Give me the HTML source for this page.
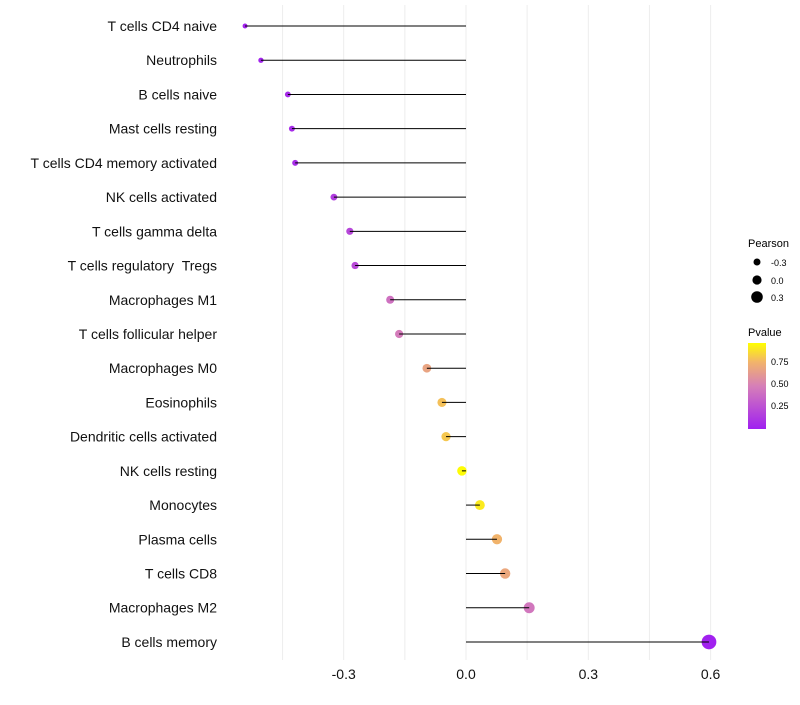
<!DOCTYPE html>
<html><head><meta charset="utf-8"><style>
body{margin:0;background:#fff;font-family:"Liberation Sans",sans-serif}
</style></head><body>
<svg id="chart" width="800" height="700" xmlns="http://www.w3.org/2000/svg" font-family="Liberation Sans, sans-serif">
<defs><linearGradient id="pg" x1="0" y1="1" x2="0" y2="0">
<stop offset="0" stop-color="#A020F0"/><stop offset="0.5" stop-color="#D67FB8"/><stop offset="0.78" stop-color="#F2B46A"/><stop offset="1" stop-color="#FFFF00"/></linearGradient></defs>
<g id="grid"></g>
<g id="marks"></g>
<g id="legend">
<text x="748" y="247" font-size="11">Pearson</text>
<circle cx="757" cy="262" r="3.5" fill="#000"/>
<text x="771" y="266" font-size="9">-0.3</text>
<circle cx="757" cy="280" r="4.6" fill="#000"/>
<text x="771" y="284" font-size="9">0.0</text>
<circle cx="757" cy="297" r="5.8" fill="#000"/>
<text x="771" y="301" font-size="9">0.3</text>
<text x="748" y="336" font-size="11">Pvalue</text>
<rect x="748" y="343" width="18" height="86" fill="url(#pg)"/>
<text x="771" y="365" font-size="9">0.75</text>
<text x="771" y="387" font-size="9">0.50</text>
<text x="771" y="409" font-size="9">0.25</text>
</g>
</svg>
<script>
const cells=["T cells CD4 naive","Neutrophils","B cells naive","Mast cells resting","T cells CD4 memory activated","NK cells activated","T cells gamma delta","T cells regulatory\u00a0\u00a0Tregs","Macrophages M1","T cells follicular helper","Macrophages M0","Eosinophils","Dendritic cells activated","NK cells resting","Monocytes","Plasma cells","T cells CD8","Macrophages M2","B cells memory"];
const pearson=[-0.542,-0.503,-0.437,-0.427,-0.419,-0.324,-0.285,-0.272,-0.186,-0.164,-0.096,-0.059,-0.049,-0.010,0.034,0.076,0.096,0.155,0.596];
const pvalue=[0.02,0.03,0.06,0.06,0.07,0.15,0.2,0.22,0.42,0.47,0.68,0.8,0.82,0.97,0.92,0.76,0.7,0.45,0.01];
const xTicks=[-0.3,0.0,0.3,0.6];
const xTickLabels=["-0.3","0.0","0.3","0.6"];
const gridVals=[-0.45,-0.3,-0.15,0,0.15,0.3,0.45,0.6];
const NS="http://www.w3.org/2000/svg";
const x=v=>466+v*407.7;
const y=i=>26+i*34.22;
const r=v=>Math.max(2,4.8+4.3*v);
const stops=[[0,[160,32,240]],[0.5,[214,127,184]],[0.78,[242,180,106]],[1,[255,255,0]]];
function col(p){let t=Math.min(1,Math.max(0,(p-0.003)/0.977));for(let k=1;k<stops.length;k++){if(t<=stops[k][0]){const a=stops[k-1],b=stops[k],f=(t-a[0])/(b[0]-a[0]);const c=a[1].map((v,j)=>Math.round(v+(b[1][j]-v)*f));return `rgb(${c})`;}}return "rgb(255,255,0)";}
function mk(t,at,parent){const e=document.createElementNS(NS,t);for(const k in at)e.setAttribute(k,at[k]);parent.appendChild(e);return e;}
const grid=document.getElementById('grid'),marks=document.getElementById('marks');
gridVals.forEach(v=>{const l=mk('line',{x1:x(v),x2:x(v),y1:5,y2:660,stroke:'#ededed','stroke-width':1},grid);

});
xTicks.forEach((v,i)=>{const t=mk('text',{x:x(v),y:679,'font-size':14,'text-anchor':'middle',fill:'#111'},grid);t.textContent=xTickLabels[i];

});
cells.forEach((c,i)=>{
const t=mk('text',{x:217,y:y(i)+5,'font-size':14,'text-anchor':'end',fill:'#111'},marks);t.textContent=c;


const d=mk('circle',{cx:x(pearson[i]),cy:y(i),r:r(pearson[i]),fill:col(pvalue[i])},marks);


const l=mk('line',{x1:x(0),x2:x(pearson[i]),y1:y(i),y2:y(i),stroke:'#000','stroke-width':1},marks);


});
</script>
</body></html>
